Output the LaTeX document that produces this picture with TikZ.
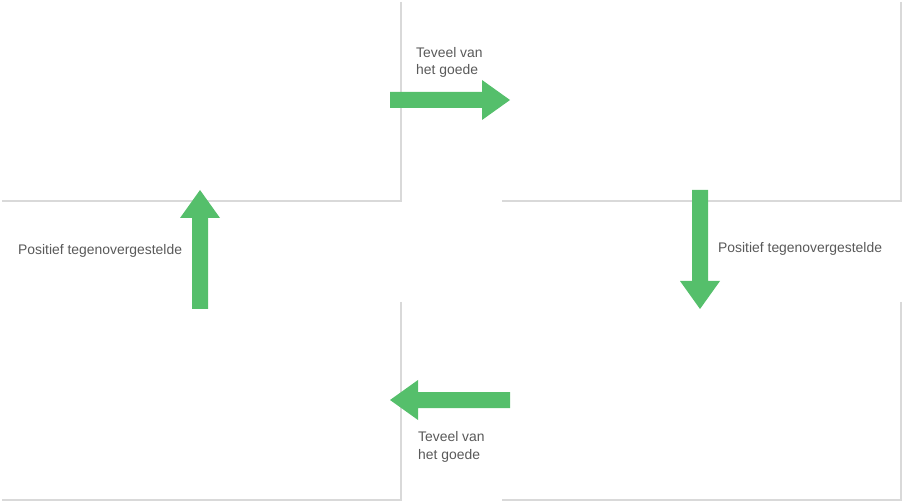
\documentclass[tikz,border=0pt]{standalone}
\usepackage{fontspec}
\setmainfont{Liberation Sans}
\definecolor{edgegray}{HTML}{D9D9D9}
\definecolor{arrowgreen}{HTML}{55BF6B}
\definecolor{textgray}{HTML}{595959}
\tikzset{
  boxedge/.style={draw=edgegray, line width=2pt},
  blockarrow/.style={fill=arrowgreen, draw=none},
  lbl/.style={font=\fontsize{13.9}{17.5}\selectfont, text=textgray, inner sep=0pt, anchor=base west, align=left}
}
\begin{document}
\begin{tikzpicture}[x=1pt,y=-1pt]
\useasboundingbox (0,0) rectangle (902,502);
% box edges (right and bottom borders)
\draw[boxedge] (401,2) -- (401,201) -- (2,201);
\draw[boxedge] (901,2) -- (901,201) -- (502,201);
\draw[boxedge] (401,302) -- (401,500) -- (2,500);
\draw[boxedge] (901,302) -- (901,500) -- (502,500);
% block arrows
\fill[blockarrow] (390,92) -- (482,92) -- (482,80) -- (510,100) -- (482,120) -- (482,108) -- (390,108) -- cycle;
\fill[blockarrow] (692,190) -- (708,190) -- (708,281) -- (720,281) -- (700,309) -- (680,281) -- (692,281) -- cycle;
\fill[blockarrow] (510,392) -- (418,392) -- (418,380) -- (390,400) -- (418,420) -- (418,408) -- (510,408) -- cycle;
\fill[blockarrow] (192,309) -- (208,309) -- (208,218) -- (220,218) -- (200,190) -- (180,218) -- (192,218) -- cycle;
% labels
\node[lbl] (t1) at (416,75) {Teveel van\\het goede};
\node[lbl] (t2) at (418,459) {Teveel van\\het goede};
\node[lbl] (t3) at (18,255) {Positief tegenovergestelde};
\node[lbl] (t4) at (718,253) {Positief tegenovergestelde};
\end{tikzpicture}
\end{document}
